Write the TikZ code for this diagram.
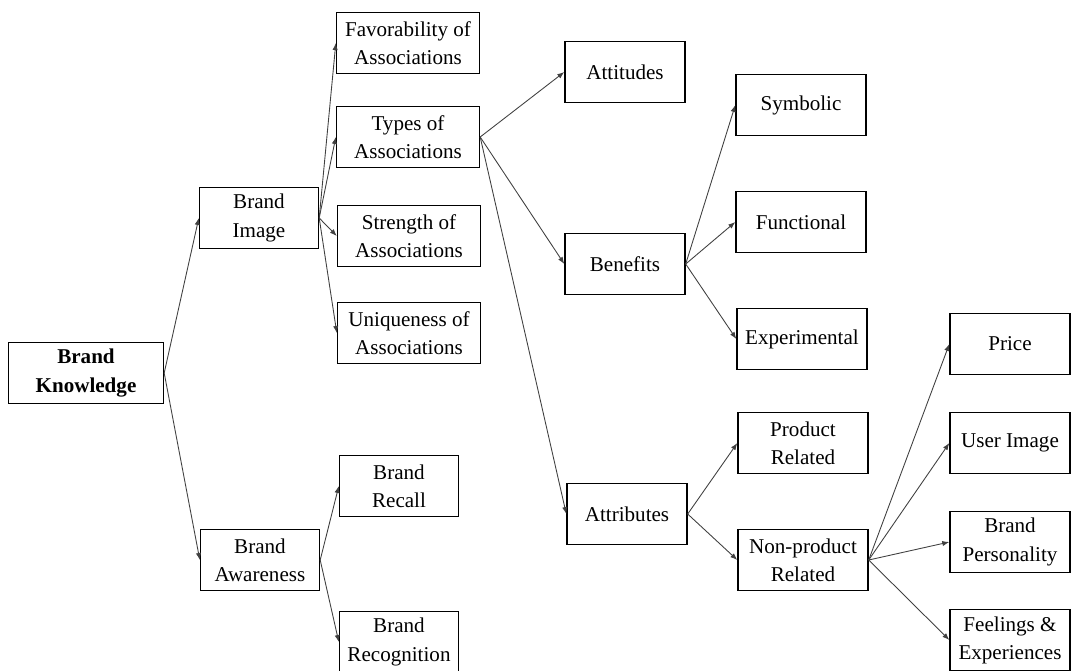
\documentclass[tikz,border=0pt]{standalone}
\usepackage{fontspec}
\setmainfont{Liberation Serif}
\usetikzlibrary{arrows.meta, positioning}

\begin{document}
\begin{tikzpicture}[
  x=0.02cm, y=-0.02cm,
  box/.style={rectangle, draw=black, line width=0.8pt, align=center, inner sep=2pt, minimum height=1.21cm, font=\fontsize{12}{16}\selectfont},
  rootbox/.style={box, minimum width=3.1cm, font=\fontsize{12}{16}\selectfont\bfseries},
  lvla/.style={box, minimum width=2.38cm},
  lvlb/.style={box, minimum width=2.86cm},
  lvlc/.style={box, minimum width=2.4cm},
  lvld/.style={box, minimum width=2.6cm},
  arr/.style={-{Latex[length=4pt,width=3pt]}, draw=black!75, line width=0.5pt}
]
\useasboundingbox (0,0) rectangle (1071,670);

% Wurzel und erste Ebene
\node[rootbox] (bk) at (86,373) {Brand\\Knowledge};
\node[lvla] (bimg) at (259,218) {Brand\\Image};
\node[lvla] (baw) at (260,560) {Brand\\Awareness};

% Assoziationen
\node[lvlb] (fav) at (408,43) {Favorability of\\Associations};
\node[lvlb] (types) at (408,137) {Types of\\Associations};
\node[lvlb] (strength) at (409,236) {Strength of\\Associations};
\node[lvlb] (uniq) at (409,333) {Uniqueness of\\Associations};

% Bekanntheit
\node[lvla] (recall) at (399,486) {Brand\\Recall};
\node[lvla] (recog) at (399,642) {Brand\\Recognition};

% Arten der Assoziationen
\node[lvlc] (att) at (625,72) {Attitudes};
\node[lvlc] (ben) at (625,264) {Benefits};
\node[lvlc] (attr) at (627,514) {Attributes};

% Nutzen und Eigenschaften
\node[lvld] (symb) at (801,105) {Symbolic};
\node[lvld] (func) at (801,222) {Functional};
\node[lvld] (expe) at (802,339) {Experimental};
\node[lvld] (prod) at (803,443) {Product\\Related};
\node[lvld] (nonprod) at (803,560) {Non-product\\Related};

% rechte Spalte
\node[lvlc] (price) at (1010,344) {Price};
\node[lvlc] (user) at (1010,443) {User Image};
\node[lvlc] (pers) at (1010,542) {Brand\\Personality};
\node[lvlc] (feel) at (1010,640) {Feelings \&\\Experiences};

% Verbindungen
\draw[arr] (bk.east) -- (bimg.west);
\draw[arr] (bk.east) -- (baw.west);
\foreach \c in {fav, types, strength, uniq}
  \draw[arr] (bimg.east) -- (\c.west);
\foreach \c in {recall, recog}
  \draw[arr] (baw.east) -- (\c.west);
\foreach \c in {att, ben, attr}
  \draw[arr] (types.east) -- (\c.west);
\foreach \c in {symb, func, expe}
  \draw[arr] (ben.east) -- (\c.west);
\foreach \c in {prod, nonprod}
  \draw[arr] (attr.east) -- (\c.west);
\foreach \c in {price, user, pers, feel}
  \draw[arr] (nonprod.east) -- (\c.west);

\end{tikzpicture}
\end{document}
